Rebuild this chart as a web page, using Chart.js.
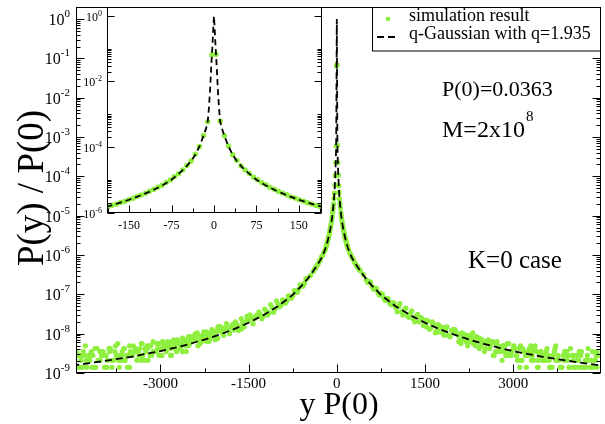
<!DOCTYPE html>
<html>
<head>
<meta charset="utf-8">
<script src="https://cdn.jsdelivr.net/npm/chart.js@4.4.1/dist/chart.umd.min.js"></script>
<style>
  html,body{margin:0;padding:0;background:#fff}
  #wrap{position:relative;width:605px;height:424px}
  #wrap canvas{position:absolute;left:0;top:0}
</style>
</head>
<body>
<div id="wrap">
  <canvas id="main" width="605" height="424"></canvas>
  <canvas id="inset" width="330" height="240"></canvas>
</div>
<script>
// ---- values (x = y*P(0), y = P(y)/P(0)) ----
// bins close to the peak (also shown in the inset), positive x; left/right values
const coreX = [3.7, 11, 18.4, 25.7, 33, 40.4, 47.8, 55, 62.5, 70, 77, 84.5, 92, 99, 106.5, 114, 121, 128.5, 136, 143, 150.5, 158, 165, 172.5, 180, 187];
const coreLeft = [0.065, 5.9e-4, 2.25e-4, 1.04e-4, 6.0e-5, 3.75e-5, 2.72e-5, 1.98e-5, 1.53e-5, 1.23e-5, 9.8e-6, 8.3e-6, 6.8e-6, 5.95e-6, 5.05e-6, 4.45e-6, 3.85e-6, 3.42e-6, 3.08e-6, 2.72e-6, 2.47e-6, 2.18e-6, 2.02e-6, 1.8e-6, 1.67e-6, 1.5e-6];
const coreRight = [0.068, 6.2e-4, 2.2e-4, 1.07e-4, 5.8e-5, 3.9e-5, 2.65e-5, 2.0e-5, 1.57e-5, 1.2e-5, 1.0e-5, 8.1e-6, 7.0e-6, 5.8e-6, 5.15e-6, 4.4e-6, 3.9e-6, 3.5e-6, 3.0e-6, 2.78e-6, 2.45e-6, 2.22e-6, 1.98e-6, 1.83e-6, 1.65e-6, 1.53e-6];

// tails of the main plot
const tailX = [200, 220, 240, 260, 280, 300, 320, 340, 360, 380, 400,
  450, 500, 550, 600, 650, 700, 750, 800, 850, 900, 950, 1000,
  1050, 1100, 1150, 1200, 1250, 1300, 1350, 1400, 1450, 1500,
  1550, 1600, 1650, 1700, 1750, 1800, 1850, 1900, 1950, 2000,
  2050, 2100, 2150, 2200, 2250, 2300, 2350, 2400, 2450, 2500,
  2550, 2600, 2650, 2700, 2750, 2800, 2850, 2900, 2950, 3000,
  3050, 3100, 3150, 3200, 3250, 3300, 3350, 3400, 3450, 3500,
  3550, 3600, 3650, 3700, 3750, 3800, 3850, 3900, 3950, 4000,
  4050, 4100, 4150, 4200, 4250, 4300, 4350, 4400, 4450];
const tailLeft = [1.33e-6, 1.17e-6, 9.8e-7, 9.0e-7, 7.5e-7, 6.8e-7, 5.8e-7, 5.4e-7, 4.7e-7, 4.4e-7, 3.8e-7,
  3.0e-7, 2.55e-7, 1.92e-7, 1.72e-7, 1.32e-7, 1.22e-7, 9.2e-8, 9.0e-8, 6.9e-8, 6.9e-8, 5.3e-8, 5.6e-8,
  4.3e-8, 4.6e-8, 3.4e-8, 3.8e-8, 2.8e-8, 3.1e-8, 2.9e-8, 2.4e-8, 2.5e-8, 2.2e-8,
  2.0e-8, 1.9e-8, 1.5e-8, 1.75e-8, 1.25e-8, 1.5e-8, 1.3e-8, 1.4e-8, 1.05e-8, 1.2e-8,
  1.12e-8, 9.8e-9, 7.7e-9, 1.05e-8, 8.4e-9, 6.3e-9, 9.1e-9, 7.0e-9, 7.7e-9, 5.6e-9,
  6.3e-9, 7.0e-9, 4.9e-9, 5.6e-9, 4.2e-9, 6.3e-9, 4.9e-9, 3.5e-9, 5.6e-9, 4.2e-9,
  4.2e-9, 3.5e-9, 2.8e-9, 4.9e-9, 3.5e-9, 2.8e-9, 4.2e-9, 2.1e-9, 3.5e-9, 2.8e-9,
  2.8e-9, 2.1e-9, 3.5e-9, 1.4e-9, 2.8e-9, 2.1e-9, 4.2e-9, 2.1e-9, 1.4e-9, 2.8e-9,
  2.1e-9, 1.4e-9, 2.8e-9, 2.1e-9, 1.4e-9, 2.8e-9, 2.1e-9, 1.4e-9, 2.1e-9];
const tailRight = [1.38e-6, 1.12e-6, 1.02e-6, 8.6e-7, 7.8e-7, 6.5e-7, 6.0e-7, 5.2e-7, 4.9e-7, 4.2e-7, 4.0e-7,
  3.2e-7, 2.35e-7, 2.1e-7, 1.58e-7, 1.45e-7, 1.1e-7, 1.05e-7, 8.0e-8, 7.9e-8, 6.0e-8, 6.2e-8, 4.7e-8,
  4.9e-8, 3.6e-8, 4.1e-8, 2.9e-8, 3.3e-8, 2.4e-8, 2.8e-8, 2.0e-8, 2.4e-8, 1.7e-8,
  2.1e-8, 1.4e-8, 1.7e-8, 1.2e-8, 1.55e-8, 1.05e-8, 1.3e-8, 9.0e-9, 1.2e-8, 1.1e-8,
  9.8e-9, 7.0e-9, 9.1e-9, 6.3e-9, 8.4e-9, 7.7e-9, 5.6e-9, 7.0e-9, 4.9e-9, 6.3e-9,
  5.6e-9, 4.2e-9, 6.3e-9, 3.5e-9, 4.9e-9, 4.2e-9, 3.5e-9, 5.6e-9, 2.8e-9, 4.2e-9,
  2.8e-9, 4.2e-9, 2.1e-9, 3.5e-9, 2.8e-9, 4.9e-9, 2.1e-9, 3.5e-9, 2.8e-9, 2.1e-9,
  2.1e-9, 2.8e-9, 1.4e-9, 3.5e-9, 2.1e-9, 1.4e-9, 2.8e-9, 2.1e-9, 1.4e-9, 2.8e-9,
  1.4e-9, 2.1e-9, 2.8e-9, 1.4e-9, 2.1e-9, 1.4e-9, 3.5e-9, 2.1e-9, 2.8e-9];

// more scattered bins in the wings, values in units of 1e-9
const NANO = 1e-9;
const midX = [525, 575, 625, 675, 725, 775, 825, 875, 925, 975];
const midLeft = [250, 160, 175, 112, 125, 80, 92, 60, 72, 48];
const midRight = [200, 205, 135, 142, 95, 102, 70, 78, 54, 60];

const farX = [1025, 1075, 1125, 1175, 1225, 1275, 1325, 1375, 1425, 1475,
  1525, 1575, 1625, 1675, 1725, 1775, 1825, 1875, 1925, 1975,
  2025, 2075, 2125, 2175, 2225, 2275, 2325, 2375, 2425, 2475,
  2525, 2575, 2625, 2675, 2725, 2775, 2825, 2875, 2925, 2975,
  3025, 3075, 3125, 3175, 3225, 3275, 3325, 3375, 3425, 3475,
  3525, 3575, 3625, 3675, 3725, 3775, 3825, 3875, 3925, 3975,
  4025, 4075, 4125, 4175, 4225, 4275, 4325, 4375, 4425];
const farLeft = [68, 35, 55, 30, 42, 24, 36, 29, 18, 30,
  28, 15, 24, 12, 20, 17, 10.5, 18, 9.1, 15,
  14, 8.4, 12.6, 6.3, 11.2, 9.1, 5.6, 10.5, 7.0, 8.4,
  8.4, 4.9, 7.7, 5.6, 3.5, 7.0, 4.2, 6.3, 4.9, 2.8,
  5.6, 3.5, 6.3, 2.8, 4.9, 2.1, 5.6, 3.5, 4.2, 2.8,
  4.9, 2.8, 4.2, 2.1, 5.6, 3.5, 1.4, 4.2, 2.8, 3.5,
  2.1, 4.2, 1.4, 3.5, 2.8, 4.9, 1.4, 2.8, 3.5];
const farRight = [36, 58, 30, 45, 26, 38, 20, 31, 26, 16,
  22, 13, 20, 10.5, 17, 14, 9.1, 15, 8.4, 12.6,
  11.2, 6.3, 10.5, 7.7, 4.9, 9.1, 6.3, 8.4, 4.2, 7.0,
  4.2, 7.0, 5.6, 2.8, 6.3, 3.5, 4.9, 2.8, 5.6, 3.5,
  4.2, 2.1, 4.9, 3.5, 1.4, 4.2, 2.8, 4.9, 2.1, 3.5,
  2.1, 4.2, 1.4, 2.8, 4.9, 2.1, 1.4, 3.5, 2.1, 4.2,
  1.4, 2.8, 3.5, 1.4, 2.1, 4.2, 1.4, 2.1, 3.5];

const edgeX = [2012, 2062, 2112, 2162, 2212, 2262, 2312, 2362, 2412, 2462,
  2512, 2562, 2612, 2662, 2712, 2762, 2812, 2862, 2912, 2962,
  3012, 3062, 3112, 3162, 3212, 3262, 3312, 3362, 3412, 3462,
  3512, 3562, 3612, 3662, 3712, 3762, 3812, 3862, 3912, 3962,
  4012, 4062, 4112, 4162, 4212, 4262, 4312, 4362, 4412];
const edgeLeft = [15.4, 7.0, 11.9, 9.8, 6.3, 11.2, 7.7, 4.9, 9.8, 6.3,
  7.7, 3.5, 6.3, 4.2, 7.0, 4.9, 2.8, 5.6, 4.2, 6.3,
  2.8, 5.6, 3.5, 4.9, 2.1, 4.2, 5.6, 2.8, 3.5, 4.9,
  3.5, 1.4, 4.2, 2.8, 2.1, 4.9, 2.1, 3.5, 1.4, 2.8,
  3.5, 2.1, 4.2, 1.4, 2.8, 2.1, 3.5, 1.4, 2.8];
const edgeRight = [12.6, 9.1, 5.6, 9.8, 7.7, 6.3, 10.5, 4.9, 7.0, 5.6,
  3.5, 6.3, 4.9, 2.8, 5.6, 4.2, 2.1, 4.9, 3.5, 2.8,
  4.9, 2.8, 1.4, 4.2, 2.8, 3.5, 2.1, 4.2, 1.4, 3.5,
  2.8, 3.5, 2.1, 1.4, 4.2, 2.8, 1.4, 2.1, 3.5, 1.4,
  2.8, 1.4, 2.1, 3.5, 1.4, 2.8, 2.1, 1.4, 2.8];

// second row of scattered bins in the far tails
const extraX = [1525, 1625, 1725, 1825, 1925, 2025, 2125, 2225, 2325, 2425,
  2525, 2625, 2725, 2825, 2925, 3025, 3125, 3225, 3325, 3425,
  3525, 3625, 3725, 3825, 3925, 4025, 4125, 4225, 4325, 4425];
const extraLeft = [2.3e-8, 1.3e-8, 1.65e-8, 1.0e-8, 1.3e-8, 7.7e-9, 1.05e-8, 8.4e-9, 6.3e-9, 8.4e-9,
  4.9e-9, 3.5e-9, 5.6e-9, 2.8e-9, 4.9e-9, 2.8e-9, 3.5e-9, 4.2e-9, 2.1e-9, 3.5e-9,
  1.4e-9, 2.1e-9, 2.8e-9, 2.1e-9, 1.4e-9, 3.5e-9, 1.4e-9, 2.1e-9, 2.8e-9, 1.4e-9];
const extraRight = [1.5e-8, 1.9e-8, 1.1e-8, 1.45e-8, 8.4e-9, 1.05e-8, 7.0e-9, 9.1e-9, 5.6e-9, 7.7e-9,
  4.2e-9, 6.3e-9, 3.5e-9, 4.9e-9, 2.8e-9, 4.2e-9, 2.1e-9, 2.8e-9, 3.5e-9, 1.4e-9,
  2.8e-9, 1.4e-9, 2.1e-9, 1.4e-9, 2.8e-9, 2.1e-9, 1.4e-9, 1.4e-9, 2.1e-9, 1.4e-9];

// q-Gaussian (q=1.935) dashed curve, symmetric, positive side
const curveX = [0, 1, 2, 3, 3.7, 5, 7, 9, 11, 14, 18, 25, 33, 40, 50, 60, 75, 90, 110, 130, 150, 170, 190,
  250, 300, 400, 500, 600, 750, 1000, 1250, 1500, 1750, 2000, 2250, 2500, 2750, 3000, 3500, 4000, 4500];
const curveY = [1, 0.5, 0.22, 0.1, 0.065, 0.025, 5e-3, 1.5e-3, 6e-4, 3.7e-4, 2.3e-4, 1.1e-4, 5.8e-5, 3.8e-5, 2.4e-5, 1.65e-5, 1.0e-5, 6.9e-6, 4.6e-6, 3.3e-6, 2.45e-6, 1.9e-6, 1.5e-6,
  8.9e-7, 6.6e-7, 3.9e-7, 2.45e-7, 1.65e-7, 9.7e-8, 5.0e-8, 2.95e-8, 1.9e-8, 1.3e-8, 9.4e-9, 7.1e-9, 5.5e-9, 4.4e-9, 3.6e-9, 2.58e-9, 1.97e-9, 1.55e-9];

// axis ticks
const mainXTicks = [-3000, -1500, 0, 1500, 3000];
const mainXMinor = [-3750, -2250, -750, 750, 2250, 3750];
const mainYExp = [0, -1, -2, -3, -4, -5, -6, -7, -8, -9];
const insetXTicks = [-150, -75, 0, 75, 150];
const insetXMinor = [-187.5, -112.5, -37.5, 37.5, 112.5, 187.5];
const insetYExp = [0, -2, -4, -6];

const GREEN = '#8eef3e';
const SERIF = '"Liberation Serif","DejaVu Serif","Times New Roman",serif';

function mirror(xs, left, right, unit){
  const k = unit || 1, pts = [];
  xs.forEach((x,i)=>{ pts.push({x:-x, y:left[i]*k}); pts.push({x:x, y:right[i]*k}); });
  return pts;
}
const curvePts = curveX.slice(1).reverse().map((x,i,a)=>({x:-x, y:curveY[a.length-i]}))
  .concat(curveX.map((x,i)=>({x:x, y:curveY[i]})));
const insetPts = mirror(coreX, coreLeft, coreRight);
const mainPts = insetPts.concat(
  mirror(tailX, tailLeft, tailRight),
  mirror(extraX, extraLeft, extraRight),
  mirror(midX, midLeft, midRight, NANO),
  mirror(farX, farLeft, farRight, NANO),
  mirror(edgeX, edgeLeft, edgeRight, NANO));

function logMinor(exps, lo, hi){
  const out = [];
  exps.forEach(e=>{ for(let m=2;m<=9;m++){ const v=m*Math.pow(10,e); if(v>lo && v<hi) out.push(v); } });
  return out;
}

// draws the frame, inward ticks and tick labels with the chart's own scales
function frameAxes(cfg){
  return {
    id: 'frameAxes',
    beforeDatasetsDraw(chart){
      const {ctx, chartArea:a} = chart;
      ctx.save(); ctx.fillStyle = '#fff';
      ctx.fillRect(a.left, a.top, a.right-a.left, a.bottom-a.top);
      ctx.restore();
    },
    afterDraw(chart){
      const {ctx, chartArea:a, scales:{x, y}} = chart;
      const L = Math.round(a.left)+0.5, R = Math.round(a.right)-0.5, T = Math.round(a.top)+0.5, B = Math.round(a.bottom)-0.5;
      ctx.save();
      ctx.strokeStyle = '#000'; ctx.lineWidth = 1; ctx.setLineDash([]);
      ctx.beginPath();
      const hy = (v,len)=>{ const p = Math.round(y.getPixelForValue(v))+0.5; ctx.moveTo(L,p); ctx.lineTo(L+len,p); ctx.moveTo(R,p); ctx.lineTo(R-len,p); };
      const vx = (v,len)=>{ const p = Math.round(x.getPixelForValue(v))+0.5; ctx.moveTo(p,B); ctx.lineTo(p,B-len); };
      cfg.yExp.forEach(e=>hy(Math.pow(10,e), cfg.major));
      cfg.yMinor.forEach(v=>hy(v, cfg.minor));
      cfg.xTicks.forEach(v=>vx(v, cfg.major));
      cfg.xMinor.forEach(v=>vx(v, cfg.minor));
      ctx.stroke();
      ctx.strokeRect(L, T, R-L, B-T);

      ctx.fillStyle = '#000';
      ctx.font = cfg.xFont; ctx.textAlign = 'center'; ctx.textBaseline = 'alphabetic';
      cfg.xTicks.forEach(v=>ctx.fillText(String(v), x.getPixelForValue(v), a.bottom+cfg.xBase));
      ctx.textAlign = 'right';
      cfg.yExp.forEach(e=>{
        const p = y.getPixelForValue(Math.pow(10,e));
        const right = a.left - cfg.yGap;
        const s = String(e);
        ctx.font = cfg.expFont;
        const w = ctx.measureText(s).width;
        ctx.fillText(s, right, p+cfg.expBase);
        ctx.font = cfg.yFont;
        ctx.fillText('10', right-w, p+cfg.yBase);
      });
      if (cfg.extra) cfg.extra(ctx, a);
      ctx.restore();
    }
  };
}

function mainExtras(ctx, a){
  // legend
  ctx.fillStyle = '#fff';
  ctx.fillRect(372.5, 7.5, a.right-373, 43.5);
  ctx.strokeStyle = '#000'; ctx.lineWidth = 1;
  ctx.strokeRect(372.5, 7.5, a.right-373, 43.5);
  ctx.fillStyle = GREEN;
  ctx.beginPath(); ctx.arc(388, 19, 2.3, 0, Math.PI*2); ctx.fill();
  ctx.strokeStyle = '#000'; ctx.lineWidth = 1.8; ctx.setLineDash([7,4]);
  ctx.beginPath(); ctx.moveTo(377, 37); ctx.lineTo(399, 37); ctx.stroke();
  ctx.setLineDash([]);
  ctx.fillStyle = '#000'; ctx.textAlign = 'left'; ctx.textBaseline = 'alphabetic';
  ctx.font = '18px ' + SERIF;
  ctx.fillText('simulation result', 409, 21);
  ctx.fillText('q-Gaussian with q=1.935', 409, 39);
  // annotations
  ctx.font = '22px ' + SERIF;
  ctx.fillText('P(0)=0.0363', 442, 96);
  ctx.font = '24px ' + SERIF;
  ctx.fillText('M=2x10', 442, 137);
  const w = ctx.measureText('M=2x10').width;
  ctx.font = '15px ' + SERIF;
  ctx.fillText('8', 443+w, 121);
  ctx.font = '25px ' + SERIF;
  ctx.fillText('K=0 case', 468, 268);
  // axis titles
  ctx.textAlign = 'center';
  ctx.font = '32px ' + SERIF;
  ctx.fillText('y P(0)', 339, 414);
  ctx.font = '37px ' + SERIF;
  ctx.save();
  ctx.translate(43, 188); ctx.rotate(-Math.PI/2);
  ctx.fillText('P(y) / P(0)', 0, 0);
  ctx.restore();
}

function baseOptions(xmin, xmax, ymin, ymax, padding){
  return {
    responsive: false, animation: false, devicePixelRatio: 1, events: [],
    layout: { padding },
    plugins: { legend: {display:false}, tooltip: {enabled:false} },
    scales: {
      x: { type:'linear', display:false, min:xmin, max:xmax, bounds:'data' },
      y: { type:'logarithmic', display:false, min:ymin, max:ymax, bounds:'data' }
    }
  };
}

new Chart(document.getElementById('main'), {
  type: 'scatter',
  data: { datasets: [
    { data: curvePts, showLine:true, pointRadius:0, borderColor:'#000', borderWidth:1.8, borderDash:[7,4], tension:0 },
    { data: mainPts, pointRadius:2.6, backgroundColor:GREEN, borderWidth:0 }
  ]},
  options: baseOptions(-4436, 4494, 1e-9, 2.02, {left:76, right:3, top:7, bottom:51}),
  plugins: [frameAxes({
    yExp: mainYExp, yMinor: logMinor(mainYExp.slice(1), 1e-9, 1),
    xTicks: mainXTicks, xMinor: mainXMinor, major: 8, minor: 4,
    xFont: '15px '+SERIF, xBase: 15, yFont: '16px '+SERIF, expFont: '11px '+SERIF,
    yGap: 6, yBase: 6, expBase: -2, extra: mainExtras
  })]
});

new Chart(document.getElementById('inset'), {
  type: 'scatter',
  data: { datasets: [
    { data: curvePts, showLine:true, pointRadius:0, borderColor:'#000', borderWidth:1.8, borderDash:[6,4], tension:0 },
    { data: insetPts, pointRadius:2.7, backgroundColor:GREEN, borderWidth:0 }
  ]},
  options: baseOptions(-189, 190, 1e-6, 1.88, {left:107, right:8.5, top:7, bottom:27.5}),
  plugins: [frameAxes({
    yExp: insetYExp, yMinor: logMinor([-6,-4,-2], 1e-6, 1).concat([1e-5, 1e-3, 1e-1]),
    xTicks: insetXTicks, xMinor: insetXMinor, major: 7, minor: 4,
    xFont: '12px '+SERIF, xBase: 16, yFont: '12px '+SERIF, expFont: '8px '+SERIF,
    yGap: 5, yBase: 5, expBase: 0
  })]
});
</script>
</body>
</html>
